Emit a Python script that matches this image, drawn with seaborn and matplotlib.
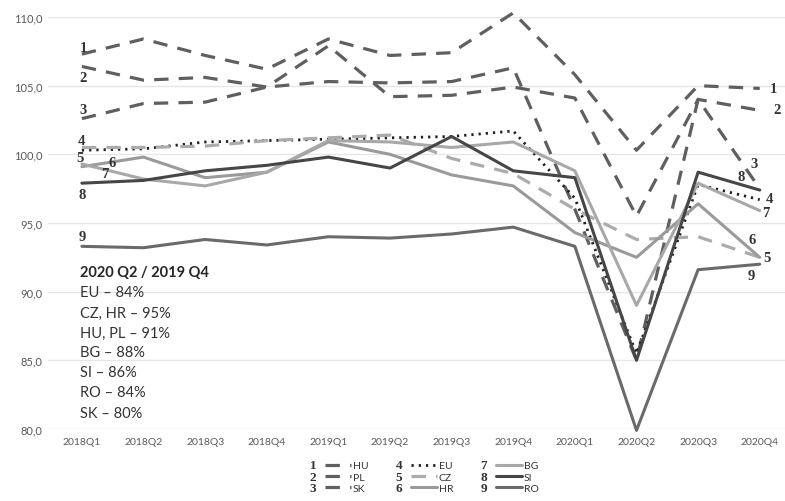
import numpy as np
import pandas as pd
import matplotlib
matplotlib.use("Agg")
import matplotlib.pyplot as plt
import seaborn as sns
from matplotlib.lines import Line2D
from matplotlib.text import Text
from matplotlib.legend_handler import HandlerBase

categories = ["2018Q1", "2018Q2", "2018Q3", "2018Q4", "2019Q1", "2019Q2",
              "2019Q3", "2019Q4", "2020Q1", "2020Q2", "2020Q3", "2020Q4"]
HU = [107.3, 108.4, 107.2, 106.2, 108.4, 107.2, 107.4, 110.3, 105.8, 100.3, 105.0, 104.8]
PL = [106.4, 105.4, 105.6, 104.9, 107.9, 104.2, 104.3, 104.9, 104.1, 95.5, 104.0, 103.2]
SK = [102.6, 103.7, 103.8, 104.9, 105.3, 105.2, 105.3, 106.3, 96.0, 85.0, 104.0, 97.5]
EU = [100.3, 100.4, 100.9, 101.0, 101.1, 101.2, 101.3, 101.7, 96.8, 85.5, 97.8, 96.7]
CZ = [100.5, 100.5, 100.6, 101.0, 101.2, 101.4, 99.7, 98.6, 96.0, 93.8, 94.0, 92.5]
HR = [99.1, 99.8, 98.3, 98.7, 100.9, 100.0, 98.5, 97.7, 94.3, 92.5, 96.4, 92.5]
BG = [99.3, 98.2, 97.7, 98.7, 101.0, 100.9, 100.5, 100.9, 98.8, 89.0, 97.9, 95.9]
SI = [97.9, 98.1, 98.8, 99.2, 99.8, 99.0, 101.3, 98.8, 98.3, 85.0, 98.7, 97.4]
RO = [93.3, 93.2, 93.8, 93.4, 94.0, 93.9, 94.2, 94.7, 93.3, 79.9, 91.6, 92.0]

series_names = ["HU", "PL", "SK", "EU", "CZ", "HR", "BG", "SI", "RO"]
series_values = [HU, PL, SK, EU, CZ, HR, BG, SI, RO]
series_numbers = ["1", "2", "3", "4", "5", "6", "7", "8", "9"]

annotation_title = "2020 Q2 / 2019 Q4"
annotation_lines = ["EU \u2013 84%", "CZ, HR \u2013 95%", "HU, PL \u2013 91%", "BG \u2013 88%",
                    "SI \u2013 86%", "RO \u2013 84%", "SK \u2013 80%"]

yticks = [80, 85, 90, 95, 100, 105, 110]

styles = {
    "HU": dict(color="#5f5f5f", ls=(0, (4.5, 3.2)), lw=2.3),
    "PL": dict(color="#5f5f5f", ls=(0, (4.5, 3.2)), lw=2.3),
    "SK": dict(color="#5f5f5f", ls=(0, (4.5, 3.2)), lw=2.3),
    "EU": dict(color="#1e1e1e", ls=(0, (0.8, 1.8)), lw=2.0),
    "CZ": dict(color="#ababab", ls=(0, (4.5, 3.2)), lw=2.3),
    "HR": dict(color="#9a9a9a", ls="-", lw=2.2),
    "BG": dict(color="#a8a8a8", ls="-", lw=2.2),
    "SI": dict(color="#464646", ls="-", lw=2.2),
    "RO": dict(color="#6a6a6a", ls="-", lw=2.2),
}

sns.set_theme(style="white")
plt.rcParams["font.family"] = ["Lato", "DejaVu Sans"]

fig = plt.figure(figsize=(7.85, 5.02), dpi=100)
ax = fig.add_axes([48 / 785, (502 - 430) / 502, 1 - 48 / 785, (430 - 18) / 502])

x = np.arange(len(categories))
handles = []
for name, vals in zip(series_names, series_values):
    st = styles[name]
    df = pd.DataFrame({"x": x, "y": vals})
    sns.lineplot(data=df, x="x", y="y", ax=ax, color=st["color"], linewidth=st["lw"],
                 linestyle=st["ls"], sort=False, clip_on=False, legend=False)
    handles.append(ax.lines[-1])

ax.set_xlim(-0.55, 11.41)
ax.set_ylim(80, 110)
ax.set_yticks(yticks)
ax.set_yticklabels([f"{v:.1f}".replace(".", ",") for v in yticks], fontsize=8, color="#595959")
ax.set_xticks(x)
ax.set_xticklabels(categories, fontsize=7.5, color="#595959")
ax.tick_params(axis="both", length=0)
ax.tick_params(axis="x", pad=6)
ax.tick_params(axis="y", pad=4)
ax.set_xlabel("")
ax.set_ylabel("")
ax.grid(axis="y", color="#e6e6e6", lw=1)
ax.set_axisbelow(True)
for s in ax.spines.values():
    s.set_visible(False)

# number labels
serif = ["Liberation Serif", "DejaVu Serif"]
left_pos = [(0.02, 107.8), (0.02, 105.6), (0.02, 103.3), (0.0, 101.0), (-0.03, 99.8),
            (0.49, 99.4), (0.37, 98.6), (0.0, 97.1), (0.0, 94.0)]
right_pos = [(11.23, 104.8), (11.28, 103.3), (10.91, 99.3), (11.15, 96.8), (11.12, 92.5),
             (10.87, 93.8), (11.1, 95.8), (10.70, 98.35), (10.87, 91.2)]
for num, (lx, ly), (rx, ry) in zip(series_numbers, left_pos, right_pos):
    ax.text(lx, ly, num, family=serif, fontsize=10.5, fontweight="bold", color="#333333",
            ha="center", va="center")
    ax.text(rx, ry, num, family=serif, fontsize=10.5, fontweight="bold", color="#333333",
            ha="center", va="center", clip_on=False)

# annotation block
ty = 91.4
ax.text(-0.03, ty, annotation_title, fontsize=10.5, fontweight="bold", color="#262626",
        ha="left", va="center")
for i, line in enumerate(annotation_lines):
    ax.text(-0.03, ty - (i + 1) * 1.457, line, fontsize=10.5, color="#333333",
            ha="left", va="center")


class NumLineHandler(HandlerBase):
    def __init__(self, num, style):
        super().__init__()
        self.num = num
        self.style = style

    def create_artists(self, legend, orig_handle, xdescent, ydescent, width, height,
                       fontsize, trans):
        y = height / 2 - ydescent
        t = Text(-xdescent, y - 0.5, self.num, fontsize=9.5, family=serif, fontweight="bold",
                 color="#333333", ha="left", va="center")
        t.set_transform(trans)
        ln = Line2D([-xdescent + 11, -xdescent + width], [y, y],
                    color=self.style["color"], lw=self.style["lw"],
                    linestyle=self.style["ls"])
        ln.set_transform(trans)
        return [t, ln]


hmap = {h: NumLineHandler(n, styles[nm]) for h, n, nm in zip(handles, series_numbers, series_names)}
leg = fig.legend(handles, series_names, handler_map=hmap, ncol=3, loc="center",
                 bbox_to_anchor=(424 / 785, 1 - 478 / 502), frameon=False, fontsize=7.5,
                 handlelength=4.0, handletextpad=0.15, columnspacing=2.6, labelspacing=0.2,
                 borderpad=0)
for t in leg.get_texts():
    t.set_color("#333333")

fig.savefig("out.png", dpi=100)
